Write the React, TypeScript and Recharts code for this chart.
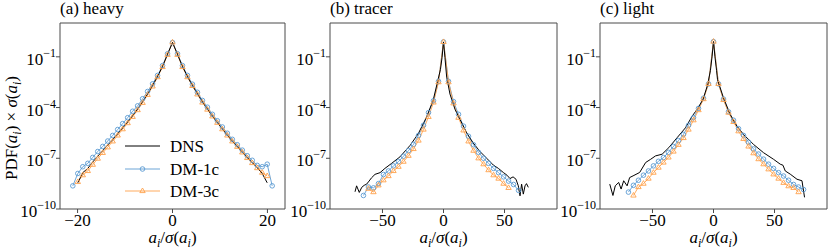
import React from 'react';
import { LineChart, Line, XAxis, YAxis, ReferenceArea, Label, Legend } from 'recharts';

const FONT = '"Liberation Serif", "Times New Roman", "DejaVu Serif", serif';
const BLUE = '#5b9bd3';
const ORANGE = '#ffa24c';
const FRAME = '#4a4a4a';

// all y values below are log10(PDF(a_i) x sigma(a_i))
const yTicks = [1e-10, 1e-7, 1e-4, 1e-1];

// (a) heavy
const heavyX = [
  -21, -19.95, -18.9, -17.85, -16.8, -15.75, -14.7, -13.65, -12.6, -11.55, -10.5, -9.45, -8.4, -7.35,
  -6.3, -5.25, -4.2, -3.15, -2.1, -1.05, 0, 1.05, 2.1, 3.15, 4.2, 5.25, 6.3, 7.35, 8.4, 9.45, 10.5,
  11.55, 12.6, 13.65, 14.7, 15.75, 16.8, 17.85, 18.9, 19.95, 21,
];
const heavyDns = [
  null, -8.45, -7.85, -7.6, -7.22, -6.88, -6.55, -6.22, -5.9, -5.55, -5.2, -4.85, -4.48, -4.08,
  -3.65, -3.2, -2.7, -2.16, -1.57, -0.85, -0.15, -0.85, -1.57, -2.16, -2.7, -3.18, -3.66, -4.08,
  -4.5, -4.88, -5.26, -5.63, -5.98, -6.3, -6.62, -6.95, -7.25, -7.55, -7.9, -8.45, null,
];
const heavyDm1 = [
  -8.63, -7.9, -7.5, -7.3, -6.95, -6.6, -6.3, -5.98, -5.65, -5.3, -4.95, -4.6, -4.22, -3.9,
  -3.48, -3.05, -2.6, -2.1, -1.52, -0.82, -0.15, -0.82, -1.52, -2.1, -2.62, -3.1, -3.58, -3.98,
  -4.4, -4.78, -5.15, -5.52, -5.88, -6.2, -6.52, -6.85, -7.12, -7.42, -7.5, -7.35, -8.63,
];
const heavyDm3 = [
  null, -8.4, -8.0, -7.75, -7.38, -7.02, -6.68, -6.35, -6.0, -5.65, -5.28, -4.92, -4.55, -4.15,
  -3.72, -3.25, -2.75, -2.2, -1.6, -0.88, -0.15, -0.88, -1.6, -2.2, -2.72, -3.22, -3.7, -4.12,
  -4.52, -4.9, -5.28, -5.65, -6.0, -6.32, -6.65, -6.98, -7.28, -7.58, -7.85, -8.05, null,
];

// (b) tracer
const tracerDnsX = [
  -72.5, -71.2, -69, -67, -65, -63, -61, -58.9, -56.1, -52, -48, -42.5, -35.7, -27.5, -20.7, -13.8,
  -8.4, -4.8, -2.5, -1.2, 0, 1.2, 2.6, 5.3, 9.4, 13.5, 19, 24.4, 29.9, 35.4, 40.8, 45, 49, 52, 54.5,
  57, 59.4, 61.3, 62.7, 64, 65.4, 66.8, 68, 69.5,
];
const tracerDns = [
  -8.98, -8.63, -9.02, -8.72, -8.6, -8.53, -8.35, -8.15, -7.95, -7.85, -7.6, -7.3, -6.92, -6.25,
  -5.55, -4.55, -3.55, -2.45, -1.75, -1.05, -0.12, -1.05, -2.2, -3.2, -4.1, -4.7, -5.5, -6.1, -6.6,
  -7.0, -7.4, -7.6, -7.84, -8.0, -8.2, -8.1, -8.24, -8.63, -9.22, -8.53, -9.12, -8.63, -8.5, -8.72,
];
const tracerX = [
  -65.6, -61.5, -57.4, -53.3, -49.2, -45.1, -41, -36.9, -32.8, -28.7, -24.6, -20.5, -16.4, -12.3,
  -8.2, -4.1, 0, 4.1, 8.2, 12.3, 16.4, 20.5, 24.6, 28.7, 32.8, 36.9, 41, 45.1, 49.2, 53.3, 57.4,
  61.5, 65.6,
];
const tracerDm1 = [
  -9.2, -8.7, -8.75, -8.5, -7.96, -7.75, -7.45, -7.2, -6.88, -6.55, -6.18, -5.65, -5.05, -4.3,
  -3.6, -2.45, -0.12, -2.45, -3.65, -4.4, -5.1, -5.7, -6.2, -6.65, -7.0, -7.3, -7.6, -7.85, -8.1,
  -8.35, -8.55, -8.9, null,
];
const tracerDm3 = [
  null, -8.8, -9.0, -8.6, -8.3, -8.05, -7.75, -7.5, -7.2, -6.85, -6.45, -5.95, -5.3, -4.55, -3.7,
  -2.5, -0.12, -2.5, -3.75, -4.6, -5.35, -6.0, -6.55, -7.0, -7.35, -7.7, -8.0, -8.2, -8.5, -8.75,
  null, null, null,
];

// (c) light
const lightDnsX = [
  -85, -82.4, -80.5, -77.7, -75.7, -73.6, -70.8, -68.7, -65.9, -60.5, -55.6, -51.5, -47.5, -42.1,
  -36.6, -29.8, -23, -17.5, -12.9, -8.5, -4.8, -2.5, -1.2, 0, 1.2, 2.5, 3.3, 8.2, 13.7, 19.2, 24.6,
  32.8, 41, 49.2, 54.7, 56.9, 58.8, 62.9, 68.4, 72.5, 74.6,
];
const lightDns = [
  -8.53, -9.2, -8.63, -8.43, -8.82, -8.33, -8.63, -8.14, -8.04, -7.84, -7.25, -7.06, -6.86, -6.76,
  -6.37, -5.78, -5.2, -4.51, -4.05, -3.5, -2.65, -1.8, -1.0, -0.1, -1.0, -1.8, -2.35, -3.43, -4.41,
  -5.1, -5.59, -6.18, -6.67, -7.06, -7.35, -7.41, -7.75, -7.94, -8.24, -8.33, -9.31,
];
const lightX = [
  -69.7, -65.6, -61.5, -57.4, -53.3, -49.2, -45.1, -41, -36.9, -32.8, -28.7, -24.6, -20.5, -16.4,
  -12.3, -8.2, -4.1, 0, 4.1, 8.2, 12.3, 16.4, 20.5, 24.6, 28.7, 32.8, 36.9, 41, 45.1, 49.2, 53.3,
  57.4, 61.5, 65.6, 69.7, 73.8,
];
const lightDm1 = [
  -9.0, -8.6, -8.3, -8.0, -7.75, -7.45, -7.18, -6.96, -6.65, -6.3, -5.95, -5.59, -5.05, -4.6,
  -4.05, -3.45, -2.6, -0.1, -2.6, -3.5, -4.25, -4.75, -5.25, -5.65, -6.05, -6.45, -6.75, -7.05,
  -7.35, -7.6, -7.85, -8.05, -8.3, -8.55, -8.7, -8.85,
];
const lightDm3 = [
  null, -9.2, -8.7, -8.5, -8.2, -7.85, -7.55, -7.25, -6.95, -6.6, -6.2, -5.8, -5.3, -4.75, -4.15,
  -3.5, -2.6, -0.1, -2.6, -3.55, -4.3, -4.85, -5.4, -5.85, -6.3, -6.7, -7.05, -7.35, -7.65, -7.95,
  -8.2, -8.45, -8.65, -8.75, -9.0, null,
];

const toPoints = (xs: number[], logs: (number | null)[]) =>
  xs.map((x, i) => ({ x, y: logs[i] == null ? null : Math.pow(10, logs[i] as number) }));

const minus = (v: number) => (v < 0 ? '\u2212' + Math.abs(v) : String(v));

const YTick = ({ x, y, payload }: any) => {
  const exp = Math.round(Math.log10(payload.value));
  return (
    <text x={x} y={y + 8} textAnchor="end" fontFamily={FONT} fontSize={17} fill="#000">
      10<tspan dy={-8} fontSize={12}>{minus(exp)}</tspan>
    </text>
  );
};

const XTick = ({ x, y, payload }: any) => (
  <text x={x} y={y + 11} textAnchor="middle" fontFamily={FONT} fontSize={17} fill="#000">
    {minus(payload.value)}
  </text>
);

const CircleDot = (p: any) => {
  if (p.cx == null || p.cy == null || p.value == null) return <g key={p.index} />;
  return <circle key={p.index} cx={p.cx} cy={p.cy} r={2.3} fill="none" stroke={BLUE} strokeWidth={0.9} />;
};

const TriDot = (p: any) => {
  if (p.cx == null || p.cy == null || p.value == null) return <g key={p.index} />;
  const { cx, cy } = p;
  return (
    <path
      key={p.index}
      d={`M${cx},${cy - 3} L${cx + 2.7},${cy + 1.6} L${cx - 2.7},${cy + 1.6} Z`}
      fill="none"
      stroke={ORANGE}
      strokeWidth={0.9}
    />
  );
};

const XAxisTitle = ({ cx }: { cx: number }) => (
  <text x={cx} y={243} textAnchor="middle" fontFamily={FONT} fontSize={17} fill="#000">
    <tspan fontStyle="italic">a</tspan>
    <tspan fontStyle="italic" fontSize={12} dy={4}>i</tspan>
    <tspan dy={-4}>/</tspan>
    <tspan fontStyle="italic">σ</tspan>(<tspan fontStyle="italic">a</tspan>
    <tspan fontStyle="italic" fontSize={12} dy={4}>i</tspan>
    <tspan dy={-4}>)</tspan>
  </text>
);

const YAxisTitle = () => (
  <text transform="translate(17,128) rotate(-90)" textAnchor="middle" fontFamily={FONT} fontSize={17} fill="#000">
    PDF(<tspan fontStyle="italic">a</tspan>
    <tspan fontStyle="italic" fontSize={12} dy={4}>i</tspan>
    <tspan dy={-4}>)</tspan> × <tspan fontStyle="italic">σ</tspan>(<tspan fontStyle="italic">a</tspan>
    <tspan fontStyle="italic" fontSize={12} dy={4}>i</tspan>
    <tspan dy={-4}>)</tspan>
  </text>
);

const LegendBox = () => (
  <svg width={120} height={72} style={{ display: 'block' }}>
    <line x1={3} x2={38} y1={13} y2={13} stroke="#000" strokeWidth={1} />
    <text x={48} y={19} fontFamily={FONT} fontSize={17}>DNS</text>
    <line x1={3} x2={38} y1={36} y2={36} stroke={BLUE} strokeWidth={0.9} />
    <circle cx={20.5} cy={36} r={2.3} fill="none" stroke={BLUE} strokeWidth={0.9} />
    <text x={48} y={42} fontFamily={FONT} fontSize={17}>DM-1c</text>
    <line x1={3} x2={38} y1={58} y2={58} stroke={ORANGE} strokeWidth={0.9} />
    <path d="M20.5,55 L23.2,59.6 L17.8,59.6 Z" fill="none" stroke={ORANGE} strokeWidth={0.9} />
    <text x={48} y={64} fontFamily={FONT} fontSize={17}>DM-3c</text>
  </svg>
);

type PanelProps = {
  left: number;
  rightMargin: number;
  title: string;
  xDomain: [number, number];
  xTicks: number[];
  dnsX: number[];
  dns: (number | null)[];
  dmX: number[];
  dm1: (number | null)[];
  dm3: (number | null)[];
  first?: boolean;
};

function Panel({ left, rightMargin, title, xDomain, xTicks, dnsX, dns, dmX, dm1, dm3, first }: PanelProps) {
  const plotLeft = 60;
  const plotWidth = 290 - plotLeft - rightMargin;
  const cx = plotLeft + plotWidth / 2;
  return (
    <div style={{ position: 'absolute', left, top: 0, width: 290, height: 250 }}>
      <div
        style={{
          position: 'absolute', left: plotLeft, top: -1, fontFamily: FONT, fontSize: 17,
          lineHeight: '20px', whiteSpace: 'nowrap', color: '#000',
        }}
      >
        {title}
      </div>
      <LineChart width={290} height={250} margin={{ top: 23, right: rightMargin, bottom: 0, left: 0 }}>
        <XAxis
          type="number"
          dataKey="x"
          domain={xDomain}
          ticks={xTicks}
          allowDataOverflow
          height={41}
          axisLine={false}
          tickSize={4}
          tickLine={{ stroke: FRAME }}
          tick={<XTick />}
          interval={0}
        >
          <Label content={() => <XAxisTitle cx={cx} />} />
        </XAxis>
        <YAxis
          type="number"
          scale="log"
          domain={[1e-10, 10]}
          ticks={yTicks}
          allowDataOverflow
          width={60}
          axisLine={false}
          tickSize={4}
          tickMargin={0}
          tickLine={{ stroke: FRAME }}
          tick={<YTick />}
          interval={0}
        >
          {first ? <Label content={() => <YAxisTitle />} /> : null}
        </YAxis>
        <ReferenceArea x1={xDomain[0]} x2={xDomain[1]} y1={1e-10} y2={10} fill="none" stroke={FRAME} strokeWidth={1} />
        <Line
          data={toPoints(dmX, dm1)}
          dataKey="y"
          name="DM-1c"
          stroke={BLUE}
          strokeWidth={0.9}
          dot={CircleDot}
          activeDot={false}
          isAnimationActive={false}
        />
        <Line
          data={toPoints(dmX, dm3)}
          dataKey="y"
          name="DM-3c"
          stroke={ORANGE}
          strokeWidth={0.9}
          dot={TriDot}
          activeDot={false}
          isAnimationActive={false}
        />
        <Line
          data={toPoints(dnsX, dns)}
          dataKey="y"
          name="DNS"
          stroke="#000"
          strokeWidth={1}
          dot={false}
          activeDot={false}
          isAnimationActive={false}
        />
        {first ? (
          <Legend
            layout="vertical"
            align="center"
            verticalAlign="middle"
            content={() => <LegendBox />}
            wrapperStyle={{ position: 'absolute', left: 122, top: 133, width: 120, height: 72 }}
          />
        ) : null}
      </LineChart>
    </div>
  );
}

export default function App() {
  return (
    <div style={{ position: 'absolute', left: 0, top: 0, width: 830, height: 250, background: '#fff' }}>
      <Panel
        left={0}
        rightMargin={5}
        title="(a) heavy"
        xDomain={[-23.7, 23.7]}
        xTicks={[-20, 0, 20]}
        dnsX={heavyX}
        dns={heavyDns}
        dmX={heavyX}
        dm1={heavyDm1}
        dm3={heavyDm3}
        first
      />
      <Panel
        left={270}
        rightMargin={3}
        title="(b) tracer"
        xDomain={[-93, 93]}
        xTicks={[-50, 0, 50]}
        dnsX={tracerDnsX}
        dns={tracerDns}
        dmX={tracerX}
        dm1={tracerDm1}
        dm3={tracerDm3}
      />
      <Panel
        left={540}
        rightMargin={3}
        title="(c) light"
        xDomain={[-93, 93]}
        xTicks={[-50, 0, 50]}
        dnsX={lightDnsX}
        dns={lightDns}
        dmX={lightX}
        dm1={lightDm1}
        dm3={lightDm3}
      />
    </div>
  );
}
